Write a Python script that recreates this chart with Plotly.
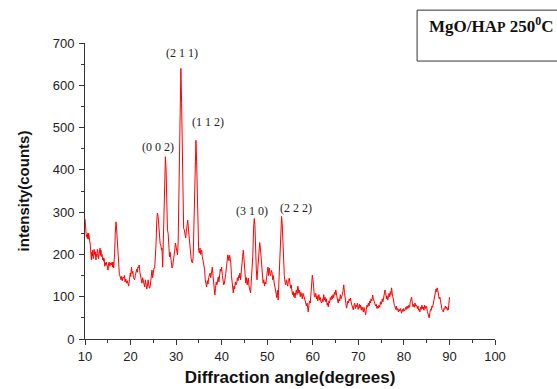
import plotly.graph_objects as go

angle = [10.0, 10.1, 10.2, 10.3, 10.4, 10.5, 10.6, 10.7, 10.8, 10.95, 11.05, 11.17, 11.3, 11.4, 11.5, 11.6, 11.7, 11.8, 11.9, 12.0, 12.1, 12.27, 12.4, 12.5, 12.6, 12.7, 12.8, 12.95, 13.05, 13.15, 13.3, 13.4, 13.5, 13.6, 13.75, 13.9, 14.0, 14.1, 14.2, 14.35, 14.46, 14.6, 14.7, 14.8, 14.95, 15.05, 15.15, 15.3, 15.45, 15.6, 15.8, 15.95, 16.05, 16.15, 16.3, 16.37, 16.5, 16.65, 16.8, 16.95, 17.1, 17.25, 17.4, 17.55, 17.75, 17.9, 18.05, 18.2, 18.35, 18.5, 18.65, 18.8, 18.95, 19.1, 19.25, 19.4, 19.6, 19.75, 19.95, 20.05, 20.2, 20.35, 20.5, 20.65, 20.9, 21.05, 21.2, 21.35, 21.5, 21.6, 21.75, 21.9, 22.05, 22.2, 22.35, 22.5, 22.65, 22.8, 22.95, 23.1, 23.25, 23.4, 23.55, 23.7, 23.85, 24.0, 24.15, 24.3, 24.45, 24.55, 24.7, 24.85, 25.0, 25.15, 25.3, 25.45, 25.6, 25.75, 25.9, 26.05, 26.2, 26.35, 26.5, 26.65, 26.8, 26.9, 27.05, 27.2, 27.35, 27.5, 27.65, 27.8, 27.95, 28.1, 28.25, 28.4, 28.55, 28.7, 28.85, 29.0, 29.1, 29.25, 29.4, 29.55, 29.7, 29.85, 30.0, 30.15, 30.3, 30.45, 30.6, 30.75, 30.9, 31.05, 31.2, 31.35, 31.5, 31.65, 31.8, 31.95, 32.1, 32.25, 32.4, 32.55, 32.7, 32.85, 33.0, 33.15, 33.3, 33.45, 33.6, 33.75, 33.9, 34.05, 34.2, 34.35, 34.5, 34.65, 34.8, 34.95, 35.1, 35.25, 35.4, 35.6, 35.75, 35.9, 36.1, 36.25, 36.4, 36.55, 36.7, 36.85, 37.0, 37.15, 37.3, 37.45, 37.6, 37.75, 37.95, 38.1, 38.25, 38.4, 38.5, 38.65, 38.8, 38.95, 39.1, 39.25, 39.4, 39.55, 39.7, 39.85, 40.0, 40.15, 40.3, 40.45, 40.6, 40.75, 40.9, 41.05, 41.2, 41.35, 41.45, 41.6, 41.75, 41.9, 42.0, 42.15, 42.3, 42.45, 42.55, 42.7, 42.85, 43.0, 43.15, 43.3, 43.45, 43.6, 43.75, 43.9, 44.0, 44.15, 44.3, 44.45, 44.6, 44.75, 44.9, 45.05, 45.15, 45.3, 45.45, 45.6, 45.75, 45.85, 46.0, 46.15, 46.35, 46.5, 46.6, 46.7, 46.85, 47.0, 47.15, 47.3, 47.45, 47.6, 47.75, 47.9, 48.05, 48.2, 48.35, 48.5, 48.65, 48.8, 48.95, 49.1, 49.25, 49.4, 49.55, 49.7, 49.85, 50.0, 50.15, 50.3, 50.45, 50.6, 50.75, 50.9, 51.05, 51.2, 51.35, 51.5, 51.65, 51.8, 51.95, 52.1, 52.25, 52.4, 52.55, 52.7, 52.85, 53.0, 53.15, 53.3, 53.45, 53.6, 53.75, 53.9, 54.05, 54.2, 54.35, 54.5, 54.65, 54.85, 55.0, 55.15, 55.25, 55.4, 55.55, 55.7, 55.85, 56.0, 56.1, 56.25, 56.4, 56.55, 56.7, 56.8, 56.95, 57.1, 57.25, 57.4, 57.55, 57.7, 57.85, 58.0, 58.15, 58.3, 58.45, 58.6, 58.75, 58.9, 59.0, 59.15, 59.3, 59.45, 59.6, 59.75, 59.9, 60.05, 60.2, 60.35, 60.5, 60.65, 60.8, 60.95, 61.1, 61.2, 61.35, 61.5, 61.65, 61.8, 61.95, 62.1, 62.25, 62.4, 62.55, 62.7, 62.85, 63.0, 63.15, 63.3, 63.4, 63.55, 63.7, 63.85, 64.0, 64.15, 64.3, 64.45, 64.6, 64.75, 64.9, 65.05, 65.2, 65.35, 65.5, 65.6, 65.75, 65.9, 66.05, 66.2, 66.35, 66.5, 66.65, 66.8, 66.95, 67.1, 67.25, 67.4, 67.55, 67.7, 67.85, 68.0, 68.15, 68.3, 68.45, 68.6, 68.75, 68.9, 69.05, 69.2, 69.35, 69.5, 69.65, 69.8, 69.95, 70.1, 70.25, 70.35, 70.5, 70.65, 70.8, 70.95, 71.1, 71.25, 71.4, 71.6, 71.75, 71.9, 72.05, 72.2, 72.35, 72.5, 72.65, 72.8, 72.95, 73.15, 73.3, 73.45, 73.65, 73.8, 73.95, 74.1, 74.25, 74.4, 74.55, 74.7, 74.85, 75.0, 75.1, 75.25, 75.4, 75.55, 75.7, 75.85, 76.0, 76.15, 76.3, 76.45, 76.6, 76.75, 76.9, 77.05, 77.15, 77.3, 77.45, 77.6, 77.75, 77.9, 78.05, 78.2, 78.35, 78.5, 78.65, 78.8, 78.95, 79.1, 79.25, 79.35, 79.5, 79.65, 79.8, 79.95, 80.1, 80.25, 80.4, 80.55, 80.7, 80.85, 80.95, 81.1, 81.25, 81.4, 81.55, 81.7, 81.85, 82.0, 82.15, 82.3, 82.45, 82.6, 82.8, 82.95, 83.1, 83.25, 83.4, 83.5, 83.65, 83.8, 83.95, 84.1, 84.25, 84.4, 84.55, 84.7, 84.85, 85.0, 85.15, 85.3, 85.45, 85.55, 85.7, 85.85, 86.0, 86.15, 86.3, 86.45, 86.6, 86.75, 86.9, 87.05, 87.2, 87.3, 87.45, 87.6, 87.75, 87.9, 88.05, 88.2, 88.35, 88.5, 88.65, 88.8, 88.95, 89.1, 89.25, 89.4, 89.55, 89.65, 89.75, 89.85, 90.0]

intensity = [284, 262, 258, 242, 246, 238, 250, 236, 250, 239, 228, 222, 200, 187, 205, 196, 210, 190, 192, 212, 200, 206, 187, 200, 195, 212, 210, 190, 200, 194, 215, 198, 210, 195, 200, 187, 192, 184, 190, 172, 180, 175, 182, 176, 168, 163, 175, 182, 172, 180, 175, 182, 170, 182, 168, 175, 203, 250, 277, 258, 234, 190, 163, 152, 147, 140, 148, 138, 146, 144, 150, 135, 142, 132, 138, 130, 125, 140, 156, 148, 170, 155, 160, 145, 140, 150, 160, 165, 158, 170, 168, 175, 158, 148, 138, 132, 145, 135, 128, 123, 140, 130, 118, 125, 140, 128, 120, 123, 135, 150, 163, 145, 160, 168, 168, 190, 227, 280, 298, 290, 258, 230, 225, 222, 210, 215, 170, 230, 330, 410, 431, 400, 320, 258, 250, 210, 194, 205, 185, 175, 168, 172, 182, 195, 210, 227, 220, 210, 199, 230, 330, 470, 600, 640, 560, 420, 300, 262, 258, 245, 239, 255, 270, 281, 260, 238, 227, 210, 190, 182, 180, 195, 260, 350, 440, 470, 420, 320, 240, 210, 203, 215, 200, 210, 195, 185, 180, 165, 140, 130, 123, 138, 130, 145, 150, 156, 145, 160, 170, 150, 135, 115, 104, 120, 135, 128, 140, 147, 135, 150, 165, 160, 170, 150, 140, 128, 132, 140, 155, 170, 190, 199, 195, 185, 198, 190, 180, 150, 125, 115, 109, 125, 118, 135, 128, 132, 145, 138, 150, 145, 156, 140, 165, 175, 195, 210, 180, 150, 135, 132, 145, 128, 140, 144, 125, 118, 109, 135, 150, 156, 200, 260, 285, 270, 200, 165, 140, 160, 195, 218, 228, 215, 190, 160, 140, 132, 140, 125, 135, 130, 145, 160, 170, 150, 168, 155, 150, 162, 158, 140, 150, 135, 125, 115, 105, 98, 115, 92, 130, 180, 240, 280, 290, 270, 210, 165, 150, 135, 128, 140, 130, 125, 138, 144, 130, 120, 128, 118, 105, 112, 100, 108, 97, 110, 116, 105, 125, 121, 108, 115, 100, 110, 104, 95, 108, 100, 92, 92, 85, 78, 85, 70, 64, 80, 90, 85, 110, 140, 151, 140, 115, 100, 99, 108, 95, 102, 90, 95, 105, 92, 98, 88, 85, 95, 88, 105, 92, 99, 88, 95, 80, 85, 76, 90, 85, 98, 92, 102, 95, 105, 98, 110, 105, 116, 102, 95, 88, 85, 95, 90, 105, 95, 99, 105, 115, 128, 110, 95, 85, 73, 80, 90, 85, 95, 90, 97, 85, 78, 75, 69, 80, 85, 72, 80, 76, 85, 70, 78, 82, 73, 80, 68, 76, 70, 64, 75, 62, 57, 70, 80, 75, 85, 78, 90, 85, 95, 90, 104, 95, 88, 85, 78, 82, 72, 78, 73, 80, 75, 88, 82, 85, 95, 88, 100, 108, 116, 110, 95, 102, 92, 99, 108, 100, 112, 105, 121, 108, 95, 88, 80, 76, 70, 78, 68, 72, 64, 70, 66, 72, 62, 61, 70, 65, 72, 66, 69, 75, 70, 78, 72, 73, 80, 75, 88, 95, 99, 85, 76, 82, 75, 85, 78, 80, 72, 78, 68, 70, 64, 75, 70, 80, 72, 76, 68, 80, 72, 78, 76, 65, 60, 55, 50, 62, 70, 68, 78, 75, 85, 95, 100, 110, 118, 112, 121, 115, 108, 95, 99, 85, 78, 70, 68, 64, 72, 70, 78, 72, 76, 68, 72, 69, 80, 99]

peak_labels = ["(0 0 2)", "(2 1 1)", "(1 1 2)", "(3 1 0)", "(2 2 2)"]
peak_label_x = [26.0, 31.3, 37.0, 46.65, 56.3]
peak_label_y = [454, 676, 513, 303, 310]

x_ticks = [10, 20, 30, 40, 50, 60, 70, 80, 90, 100]
y_ticks = [0, 100, 200, 300, 400, 500, 600, 700]

fig = go.Figure()
fig.add_trace(go.Scatter(x=angle, y=intensity, mode="lines",
                         line=dict(color="#ff0000", width=1), showlegend=False))

for t, xx, yy in zip(peak_labels, peak_label_x, peak_label_y):
    fig.add_annotation(x=xx, y=yy, text=t, showarrow=False,
                       font=dict(family="Liberation Serif, Times New Roman, serif", size=12, color="#222"),
                       xanchor="center", yanchor="middle")

axis_font = dict(family="Liberation Sans, Arial, sans-serif", size=13, color="#222")

fig.update_xaxes(range=[10, 100], tickvals=x_ticks, ticktext=[str(v) for v in x_ticks],
                 showline=True, linecolor="#333", linewidth=1, showgrid=False, zeroline=False,
                 ticks="outside", ticklen=5, tickcolor="#333", tickfont=axis_font, automargin=False,
                 minor=dict(dtick=5, ticks="outside", ticklen=3, tickcolor="#333", showgrid=False),
                 title=dict(text="<b>Diffraction angle(degrees)</b>", font=dict(family="Liberation Sans, Arial, sans-serif", size=17, color="#111"), standoff=8))
fig.update_yaxes(range=[0, 700], tickvals=y_ticks, ticktext=[str(v) for v in y_ticks],
                 showline=True, linecolor="#333", linewidth=1, showgrid=False, zeroline=False,
                 ticks="outside", ticklen=5, tickcolor="#333", tickfont=axis_font, automargin=False,
                 ticklabelstandoff=2,
                 minor=dict(dtick=50, ticks="outside", ticklen=3, tickcolor="#333", showgrid=False),
                 title=dict(text="<b>intensity(counts)</b>", font=dict(family="Liberation Sans, Arial, sans-serif", size=15, color="#111"), standoff=19))

fig.add_shape(type="rect", xref="paper", yref="paper", x0=0.81, x1=1.16, y0=0.939, y1=1.111,
              line=dict(color="#333", width=1), fillcolor="rgba(0,0,0,0)")
fig.add_annotation(xref="paper", yref="paper", x=0.834, y=1.06, xanchor="left", yanchor="middle",
                   text="<b>MgO/HA<span style='font-size:14px'>P</span> 250<sup>0</sup>C</b>", showarrow=False,
                   font=dict(family="Liberation Serif, Times New Roman, serif", size=17, color="#111"))

fig.update_layout(width=557, height=389, margin=dict(l=85, r=62, t=43, b=50, autoexpand=False),
                  plot_bgcolor="white", paper_bgcolor="white")

fig.write_html("out.html", config={"displayModeBar": False},
               post_script="document.body.style.margin='0';document.body.style.padding='0';")
